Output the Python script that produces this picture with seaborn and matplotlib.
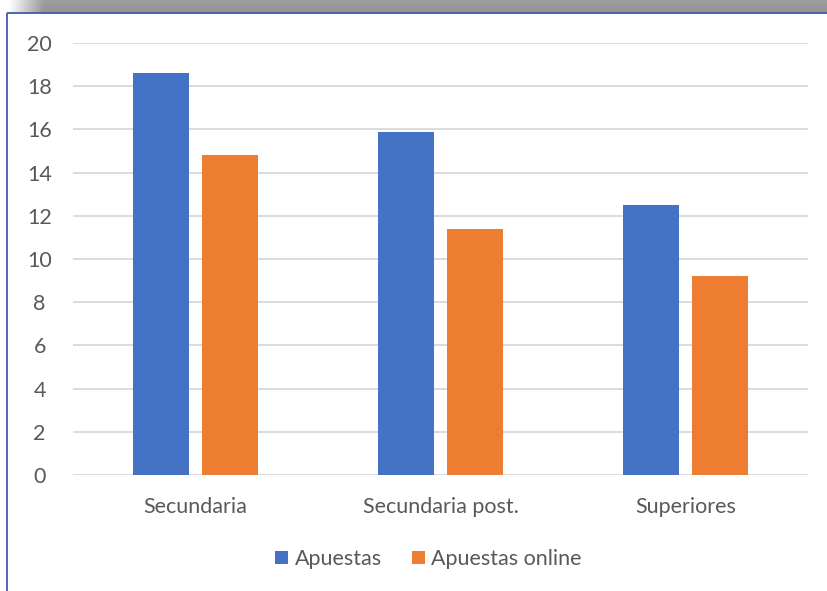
import matplotlib.pyplot as plt
import numpy as np
import pandas as pd
import seaborn as sns
from matplotlib.patches import Rectangle

# Chart data
categories = ['Secundaria', 'Secundaria post.', 'Superiores']
apuestas = [18.6, 15.9, 12.5]
apuestas_online = [14.8, 11.4, 9.2]
series_names = ['Apuestas', 'Apuestas online']
y_ticks = [0, 2, 4, 6, 8, 10, 12, 14, 16, 18, 20]

df = pd.DataFrame({
    'cat': categories * 2,
    'serie': [series_names[0]] * 3 + [series_names[1]] * 3,
    'valor': apuestas + apuestas_online,
})

sns.set_style('white')
plt.rcParams['font.family'] = ['Lato', 'DejaVu Sans']
text_col = '#595959'
palette = {'Apuestas': '#4472C4', 'Apuestas online': '#ED7D31'}

W, H = 827, 591
fig = plt.figure(figsize=(W / 100, H / 100), dpi=100)

# grey shadow band at the top
bg = fig.add_axes([0, 0, 1, 1], zorder=-5)
bg.set_xlim(0, W)
bg.set_ylim(H, 0)
bg.axis('off')
n = 400
grad = np.linspace(0.62, 0.58, 12)[:, None] * np.ones((1, n))
xs = np.linspace(0, W, n)
alpha = np.clip((xs - 8) / 35, 0, 1)[None, :] * np.ones((12, 1))
img = np.dstack([grad, grad, grad, alpha])
bg.imshow(img, extent=(0, W, 13, 0), aspect='auto', interpolation='bilinear')
bg.add_patch(Rectangle((7, 13), W, H, fill=False, edgecolor='#3F5DA8', lw=1.3))

ax = fig.add_axes([73 / W, (H - 475) / H, (808 - 73) / W, (475 - 43) / H])
sns.barplot(data=df, x='cat', y='valor', hue='serie', palette=palette,
            width=0.571, gap=0.2, saturation=1, linewidth=0, ax=ax, legend=True)

ax.set_ylim(0, 20)
ax.set_xlim(-0.5, 2.5)
ax.set_yticks(y_ticks)
ax.yaxis.grid(True, color='#D9D9D9', lw=1.3)
ax.set_axisbelow(True)
for s in ax.spines.values():
    s.set_visible(False)
ax.tick_params(axis='both', length=0, labelsize=15.5, colors=text_col)
ax.tick_params(axis='x', pad=16)
ax.tick_params(axis='y', pad=24)
ax.set_xlabel('')
ax.set_ylabel('')
for lbl in ax.get_yticklabels():
    lbl.set_horizontalalignment('center')

ax.legend(loc='center', bbox_to_anchor=((428.5 - 73) / 735, (559 - 475) / -(475 - 43)),
          ncol=2, frameon=False, fontsize=15.5, labelcolor=text_col,
          handlelength=0.6, handleheight=0.6, handletextpad=0.3,
          columnspacing=1.4)

fig.savefig('out.png', dpi=100)
